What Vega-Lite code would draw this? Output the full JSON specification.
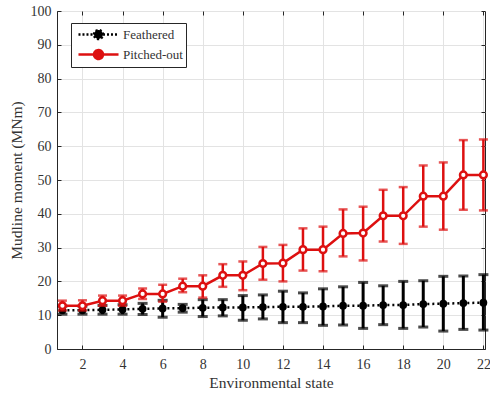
{
  "$schema": "https://vega.github.io/schema/vega-lite/v6.json",
  "autosize": "none",
  "width": 428,
  "height": 338,
  "padding": {"left": 57, "top": 11, "right": 5, "bottom": 48},
  "background": "white",
  "config": {
    "font": "Liberation Serif",
    "view": {"stroke": "#262626", "strokeWidth": 1},
    "axis": {
      "labelFont": "Liberation Serif",
      "titleFont": "Liberation Serif",
      "labelFontSize": 14,
      "titleFontSize": 15.5,
      "titleFontWeight": "normal",
      "labelColor": "#333333",
      "titleColor": "#333333",
      "domainColor": "#262626",
      "tickColor": "#262626",
      "gridColor": "#e3e3e3",
      "gridWidth": 1
    },
    "legend": {
      "labelFont": "Liberation Serif",
      "labelFontSize": 13,
      "labelColor": "#333333"
    }
  },
  "data": {
    "values": [
      {"state": 1, "series": "Feathered", "mean": 11.5, "lo": 10.3, "hi": 12.7},
      {"state": 2, "series": "Feathered", "mean": 11.5, "lo": 10.3, "hi": 12.7},
      {"state": 3, "series": "Feathered", "mean": 11.6, "lo": 10.3, "hi": 12.9},
      {"state": 4, "series": "Feathered", "mean": 11.7, "lo": 10.3, "hi": 13.1},
      {"state": 5, "series": "Feathered", "mean": 11.9, "lo": 10.2, "hi": 13.5},
      {"state": 6, "series": "Feathered", "mean": 12.0, "lo": 9.4, "hi": 14.4},
      {"state": 7, "series": "Feathered", "mean": 12.1, "lo": 10.9, "hi": 13.2},
      {"state": 8, "series": "Feathered", "mean": 12.2, "lo": 9.6, "hi": 14.6},
      {"state": 9, "series": "Feathered", "mean": 12.3, "lo": 9.8, "hi": 14.6},
      {"state": 10, "series": "Feathered", "mean": 12.3, "lo": 8.5, "hi": 15.8},
      {"state": 11, "series": "Feathered", "mean": 12.4, "lo": 8.9, "hi": 16.0},
      {"state": 12, "series": "Feathered", "mean": 12.5, "lo": 7.8, "hi": 17.1},
      {"state": 13, "series": "Feathered", "mean": 12.5, "lo": 7.8, "hi": 16.6},
      {"state": 14, "series": "Feathered", "mean": 12.6, "lo": 7.0, "hi": 17.8},
      {"state": 15, "series": "Feathered", "mean": 12.8, "lo": 7.1, "hi": 18.4},
      {"state": 16, "series": "Feathered", "mean": 12.8, "lo": 6.1, "hi": 19.7},
      {"state": 17, "series": "Feathered", "mean": 13.0, "lo": 7.2, "hi": 18.7},
      {"state": 18, "series": "Feathered", "mean": 13.0, "lo": 6.1, "hi": 20.0},
      {"state": 19, "series": "Feathered", "mean": 13.3, "lo": 6.5, "hi": 20.2},
      {"state": 20, "series": "Feathered", "mean": 13.4, "lo": 5.3, "hi": 21.5},
      {"state": 21, "series": "Feathered", "mean": 13.6, "lo": 5.8, "hi": 21.6},
      {"state": 22, "series": "Feathered", "mean": 13.7, "lo": 5.6, "hi": 22.0},
      {"state": 1, "series": "Pitched-out", "mean": 12.8, "lo": 11.4, "hi": 14.3},
      {"state": 2, "series": "Pitched-out", "mean": 12.8, "lo": 11.4, "hi": 14.4},
      {"state": 3, "series": "Pitched-out", "mean": 14.3, "lo": 12.8, "hi": 15.8},
      {"state": 4, "series": "Pitched-out", "mean": 14.3, "lo": 12.8, "hi": 15.8},
      {"state": 5, "series": "Pitched-out", "mean": 16.3, "lo": 14.8, "hi": 17.9},
      {"state": 6, "series": "Pitched-out", "mean": 16.3, "lo": 14.0, "hi": 19.0},
      {"state": 7, "series": "Pitched-out", "mean": 18.6, "lo": 16.8, "hi": 20.8},
      {"state": 8, "series": "Pitched-out", "mean": 18.6, "lo": 15.2, "hi": 21.8},
      {"state": 9, "series": "Pitched-out", "mean": 21.8, "lo": 18.4, "hi": 25.1},
      {"state": 10, "series": "Pitched-out", "mean": 21.8, "lo": 17.4, "hi": 25.9},
      {"state": 11, "series": "Pitched-out", "mean": 25.3, "lo": 20.5, "hi": 30.2},
      {"state": 12, "series": "Pitched-out", "mean": 25.4, "lo": 20.0, "hi": 30.8},
      {"state": 13, "series": "Pitched-out", "mean": 29.4, "lo": 23.2, "hi": 35.7},
      {"state": 14, "series": "Pitched-out", "mean": 29.4, "lo": 23.0, "hi": 36.2},
      {"state": 15, "series": "Pitched-out", "mean": 34.2, "lo": 27.4, "hi": 41.3},
      {"state": 16, "series": "Pitched-out", "mean": 34.3, "lo": 26.2, "hi": 42.1},
      {"state": 17, "series": "Pitched-out", "mean": 39.4, "lo": 31.8, "hi": 47.1},
      {"state": 18, "series": "Pitched-out", "mean": 39.4, "lo": 31.1, "hi": 47.9},
      {"state": 19, "series": "Pitched-out", "mean": 45.2, "lo": 36.2, "hi": 54.3},
      {"state": 20, "series": "Pitched-out", "mean": 45.2, "lo": 35.3, "hi": 55.2},
      {"state": 21, "series": "Pitched-out", "mean": 51.5, "lo": 41.2, "hi": 61.8},
      {"state": 22, "series": "Pitched-out", "mean": 51.5, "lo": 41.0, "hi": 62.0}
    ]
  },
  "resolve": {"axis": {"x": "independent", "y": "independent"}},
  "layer": [
    {
      "data": {"values": [{"series": "Feathered"}, {"series": "Pitched-out"}]},
      "mark": {"type": "point", "opacity": 0},
      "encoding": {
        "x": {"datum": 1, "type": "quantitative",
          "scale": {"domain": [0.73, 22.08], "nice": false, "zero": false},
          "axis": {"title": "Environmental state", "orient": "bottom", "values": [2, 4, 6, 8, 10, 12, 14, 16, 18, 20, 22], "tickSize": -4, "labelPadding": 12, "titlePadding": 4, "grid": true}},
        "y": {"datum": 50, "type": "quantitative",
          "scale": {"domain": [0, 100], "nice": false},
          "axis": {"title": "Mudline moment (MNm)", "orient": "left", "values": [0, 10, 20, 30, 40, 50, 60, 70, 80, 90, 100], "tickSize": -4, "labelPadding": 10, "titlePadding": 6, "grid": true}},
        "color": {
          "field": "series", "type": "nominal",
          "scale": {"domain": ["Feathered", "Pitched-out"], "range": ["#000000", "#dd1010"]},
          "legend": {
            "title": null, "orient": "none", "legendX": 14, "legendY": 12,
            "symbolType": "M-2.86,0H-0.64M0.64,0H2.86M-0.64,0A0.64,0.64 0 1,1 0.64,0A0.64,0.64 0 1,1 -0.64,0",
            "symbolSize": 196, "symbolStrokeWidth": 2.5, "symbolOpacity": 1, "symbolOffset": 16,
            "labelFont": "Liberation Serif", "labelFontSize": 13, "labelColor": "#333333",
            "strokeColor": "#262626", "fillColor": "white", "padding": 3, "rowPadding": 1, "labelOffset": 16
          }
        },
        "fill": {
          "field": "series", "type": "nominal",
          "scale": {"domain": ["Feathered", "Pitched-out"], "range": ["#000000", "#ffffff"]},
          "legend": {
            "title": null, "orient": "none", "legendX": 14, "legendY": 12,
            "symbolType": "M-2.86,0H-0.64M0.64,0H2.86M-0.64,0A0.64,0.64 0 1,1 0.64,0A0.64,0.64 0 1,1 -0.64,0",
            "symbolSize": 196, "symbolStrokeWidth": 2.5, "symbolOpacity": 1, "symbolOffset": 16,
            "labelFont": "Liberation Serif", "labelFontSize": 13, "labelColor": "#333333",
            "strokeColor": "#262626", "fillColor": "white", "padding": 3, "rowPadding": 1, "labelOffset": 16
          }
        },
        "strokeDash": {
          "field": "series", "type": "nominal",
          "scale": {"domain": ["Feathered", "Pitched-out"], "range": [[2, 2], [1, 0]]},
          "legend": {
            "title": null, "orient": "none", "legendX": 14, "legendY": 12,
            "symbolType": "M-2.86,0H-0.64M0.64,0H2.86M-0.64,0A0.64,0.64 0 1,1 0.64,0A0.64,0.64 0 1,1 -0.64,0",
            "symbolSize": 196, "symbolStrokeWidth": 2.5, "symbolOpacity": 1, "symbolOffset": 16,
            "labelFont": "Liberation Serif", "labelFontSize": 13, "labelColor": "#333333",
            "strokeColor": "#262626", "fillColor": "white", "padding": 3, "rowPadding": 1, "labelOffset": 16
          }
        }
      }
    },
    {
      "data": {"values": [{"series": "Feathered"}]},
      "mark": {"type": "point", "opacity": 0},
      "encoding": {
        "x": {"datum": 1, "type": "quantitative",
          "axis": {"title": null, "orient": "top", "values": [2, 4, 6, 8, 10, 12, 14, 16, 18, 20, 22], "tickSize": -4, "labels": false, "domain": false, "grid": false}},
        "y": {"datum": 50, "type": "quantitative",
          "axis": {"title": null, "orient": "right", "values": [0, 10, 20, 30, 40, 50, 60, 70, 80, 90, 100], "tickSize": -4, "labels": false, "domain": false, "grid": false}}
      }
    },
    {
      "transform": [{"filter": "datum.series == 'Feathered'"}],
      "encoding": {
        "x": {"field": "state", "type": "quantitative", "axis": null},
        "color": {"field": "series", "type": "nominal", "legend": null}
      },
      "layer": [
        {
          "mark": {"type": "rule", "strokeWidth": 3},
          "encoding": {
            "y": {"field": "lo", "type": "quantitative", "axis": null},
            "y2": {"field": "hi"}
          }
        },
        {
          "mark": {"type": "tick", "orient": "horizontal", "size": 10, "thickness": 3},
          "encoding": {"y": {"field": "lo", "type": "quantitative", "axis": null}}
        },
        {
          "mark": {"type": "tick", "orient": "horizontal", "size": 10, "thickness": 3},
          "encoding": {"y": {"field": "hi", "type": "quantitative", "axis": null}}
        },
        {
          "mark": {"type": "line", "strokeWidth": 2.5, "strokeDash": [2, 3]},
          "encoding": {"y": {"field": "mean", "type": "quantitative", "axis": null}}
        },
        {
          "mark": {"type": "point", "filled": true, "size": 60, "opacity": 1, "shape": "circle"},
          "encoding": {"y": {"field": "mean", "type": "quantitative", "axis": null}}
        }
      ]
    },
    {
      "transform": [{"filter": "datum.series == 'Pitched-out'"}],
      "encoding": {
        "x": {"field": "state", "type": "quantitative", "axis": null},
        "color": {"field": "series", "type": "nominal", "legend": null}
      },
      "layer": [
        {
          "mark": {"type": "rule", "strokeWidth": 2.5},
          "encoding": {
            "y": {"field": "lo", "type": "quantitative", "axis": null},
            "y2": {"field": "hi"}
          }
        },
        {
          "mark": {"type": "tick", "orient": "horizontal", "size": 9, "thickness": 2.5},
          "encoding": {"y": {"field": "lo", "type": "quantitative", "axis": null}}
        },
        {
          "mark": {"type": "tick", "orient": "horizontal", "size": 9, "thickness": 2.5},
          "encoding": {"y": {"field": "hi", "type": "quantitative", "axis": null}}
        },
        {
          "mark": {"type": "line", "strokeWidth": 2.5},
          "encoding": {"y": {"field": "mean", "type": "quantitative", "axis": null}}
        },
        {
          "mark": {"type": "point", "filled": false, "fill": "white", "size": 45, "strokeWidth": 2.5, "opacity": 1, "shape": "circle"},
          "encoding": {"y": {"field": "mean", "type": "quantitative", "axis": null}}
        }
      ]
    }
  ]
}
